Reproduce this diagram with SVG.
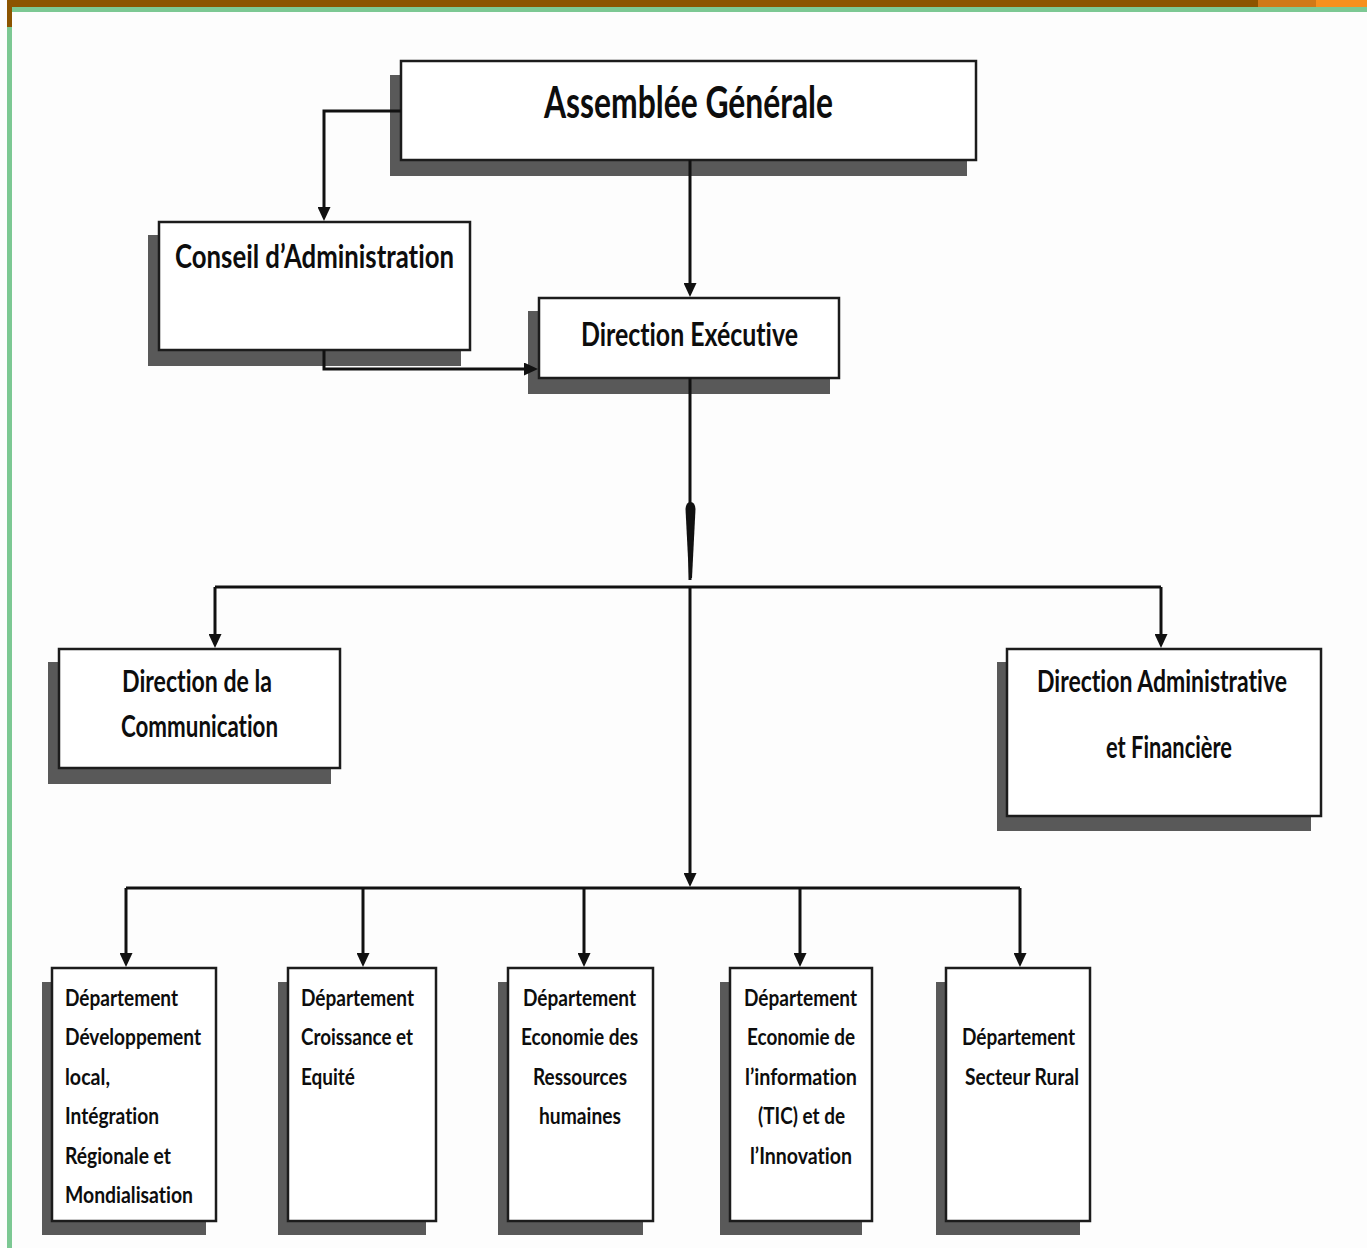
<svg xmlns="http://www.w3.org/2000/svg" width="1367" height="1248" viewBox="0 0 1367 1248">
<defs>
<style>
.bg{fill:#fdfdfd}
.shadow{fill:#595959}
.box{fill:#ffffff;stroke:#1c1c1c;stroke-width:2.5}
.t{font-family:Lato,"Open Sans","Liberation Sans",sans-serif;font-weight:700;fill:#0d0d0d;font-variant-ligatures:none;font-feature-settings:"liga" 0,"clig" 0}
.conn{stroke:#111;stroke-width:3;fill:none}
</style>
<marker id="arr" markerUnits="userSpaceOnUse" markerWidth="15" markerHeight="13" refX="8" refY="6.5" orient="auto">
<path d="M0,0 L14,6.5 L0,13 Z" fill="#111"/>
</marker>
</defs>
<rect class="bg" x="0" y="0" width="1367" height="1248"/>
<g id="frame">
<rect x="7" y="0" width="1251" height="7" fill="#8c5400"/>
<rect x="1258" y="0" width="58" height="7" fill="#d07818"/>
<rect x="1316" y="0" width="51" height="7" fill="#f7901e"/>
<rect x="7" y="7" width="1360" height="5" fill="#7cc893"/>
<rect x="7" y="12" width="5" height="1236" fill="#7cc893"/>
<rect x="7" y="7" width="5" height="20" fill="#8c5400"/>
</g>
<g id="node-ag">
<rect class="shadow" x="390" y="75" width="577" height="101"/>
<rect class="box" x="401" y="61" width="575" height="99"/>
<text class="t" x="544" y="118" font-size="44" textLength="289" lengthAdjust="spacingAndGlyphs">Assemblée Générale</text>
</g>
<g id="node-ca">
<rect class="shadow" x="148" y="235" width="313" height="131"/>
<rect class="box" x="159" y="222" width="311" height="128"/>
<text class="t" x="175" y="268" font-size="32" textLength="279" lengthAdjust="spacingAndGlyphs">Conseil d’Administration</text>
</g>
<g id="node-de">
<rect class="shadow" x="528" y="311" width="302" height="83"/>
<rect class="box" x="539" y="298" width="300" height="80"/>
<text class="t" x="581" y="346" font-size="32" textLength="217" lengthAdjust="spacingAndGlyphs">Direction Exécutive</text>
</g>
<g id="node-dc">
<rect class="shadow" x="48" y="662" width="283" height="122"/>
<rect class="box" x="59" y="649" width="281" height="119"/>
<text class="t" x="122" y="692" font-size="30" textLength="150" lengthAdjust="spacingAndGlyphs">Direction de la</text>
<text class="t" x="121" y="737" font-size="30" textLength="157" lengthAdjust="spacingAndGlyphs">Communication</text>
</g>
<g id="node-daf">
<rect class="shadow" x="997" y="662" width="314" height="169"/>
<rect class="box" x="1007" y="649" width="314" height="167"/>
<text class="t" x="1037" y="692" font-size="30" textLength="250" lengthAdjust="spacingAndGlyphs">Direction Administrative</text>
<text class="t" x="1106" y="758" font-size="30" textLength="126" lengthAdjust="spacingAndGlyphs">et Financière</text>
</g>
<g id="node-d1">
<rect class="shadow" x="42" y="982" width="164" height="253"/>
<rect class="box" x="52" y="968" width="164" height="253"/>
<text class="t" x="65" y="1006" font-size="22" textLength="113" lengthAdjust="spacingAndGlyphs">Département</text>
<text class="t" x="65" y="1045" font-size="22" textLength="136" lengthAdjust="spacingAndGlyphs">Développement</text>
<text class="t" x="65" y="1085" font-size="22" textLength="45" lengthAdjust="spacingAndGlyphs">local,</text>
<text class="t" x="65" y="1124" font-size="22" textLength="94" lengthAdjust="spacingAndGlyphs">Intégration</text>
<text class="t" x="65" y="1164" font-size="22" textLength="106" lengthAdjust="spacingAndGlyphs">Régionale et</text>
<text class="t" x="65" y="1203" font-size="22" textLength="128" lengthAdjust="spacingAndGlyphs">Mondialisation</text>
</g>
<g id="node-d2">
<rect class="shadow" x="278" y="982" width="148" height="253"/>
<rect class="box" x="288" y="968" width="148" height="253"/>
<text class="t" x="301" y="1006" font-size="22" textLength="113" lengthAdjust="spacingAndGlyphs">Département</text>
<text class="t" x="301" y="1045" font-size="22" textLength="112" lengthAdjust="spacingAndGlyphs">Croissance et</text>
<text class="t" x="301" y="1085" font-size="22" textLength="54" lengthAdjust="spacingAndGlyphs">Equité</text>
</g>
<g id="node-d3">
<rect class="shadow" x="498" y="982" width="145" height="253"/>
<rect class="box" x="508" y="968" width="145" height="253"/>
<text class="t" x="523" y="1006" font-size="22" textLength="113" lengthAdjust="spacingAndGlyphs">Département</text>
<text class="t" x="521" y="1045" font-size="22" textLength="117" lengthAdjust="spacingAndGlyphs">Economie des</text>
<text class="t" x="533" y="1085" font-size="22" textLength="94" lengthAdjust="spacingAndGlyphs">Ressources</text>
<text class="t" x="539" y="1124" font-size="22" textLength="82" lengthAdjust="spacingAndGlyphs">humaines</text>
</g>
<g id="node-d4">
<rect class="shadow" x="720" y="982" width="142" height="253"/>
<rect class="box" x="730" y="968" width="142" height="253"/>
<text class="t" x="744" y="1006" font-size="22" textLength="113" lengthAdjust="spacingAndGlyphs">Département</text>
<text class="t" x="747" y="1045" font-size="22" textLength="108" lengthAdjust="spacingAndGlyphs">Economie de</text>
<text class="t" x="745" y="1085" font-size="22" textLength="112" lengthAdjust="spacingAndGlyphs">l’information</text>
<text class="t" x="758" y="1124" font-size="22" textLength="87" lengthAdjust="spacingAndGlyphs">(TIC) et de</text>
<text class="t" x="750" y="1164" font-size="22" textLength="102" lengthAdjust="spacingAndGlyphs">l’Innovation</text>
</g>
<g id="node-d5">
<rect class="shadow" x="936" y="982" width="144" height="253"/>
<rect class="box" x="946" y="968" width="144" height="253"/>
<text class="t" x="962" y="1045" font-size="22" textLength="113" lengthAdjust="spacingAndGlyphs">Département</text>
<text class="t" x="965" y="1085" font-size="22" textLength="114" lengthAdjust="spacingAndGlyphs">Secteur Rural</text>
</g>
<g id="connectors">
<path class="conn" d="M401,111 H324 V215" marker-end="url(#arr)"/>
<path class="conn" d="M690,160 V291" marker-end="url(#arr)"/>
<path class="conn" d="M324,350 V369 H532" marker-end="url(#arr)"/>
<path class="conn" d="M690,378 V580"/>
<path d="M685.5,509 Q686,502 690.5,502 Q695,502 695.5,509 L692,578 L689,578 Z" fill="#111"/>
<path class="conn" d="M215,587 H1161"/>
<path class="conn" d="M215,587 V642" marker-end="url(#arr)"/>
<path class="conn" d="M1161,587 V642" marker-end="url(#arr)"/>
<path class="conn" d="M690,587 V881" marker-end="url(#arr)"/>
<path class="conn" d="M126,888 H1020"/>
<path class="conn" d="M126,888 V961" marker-end="url(#arr)"/>
<path class="conn" d="M363,888 V961" marker-end="url(#arr)"/>
<path class="conn" d="M584,888 V961" marker-end="url(#arr)"/>
<path class="conn" d="M800,888 V961" marker-end="url(#arr)"/>
<path class="conn" d="M1020,888 V961" marker-end="url(#arr)"/>
</g>
</svg>
